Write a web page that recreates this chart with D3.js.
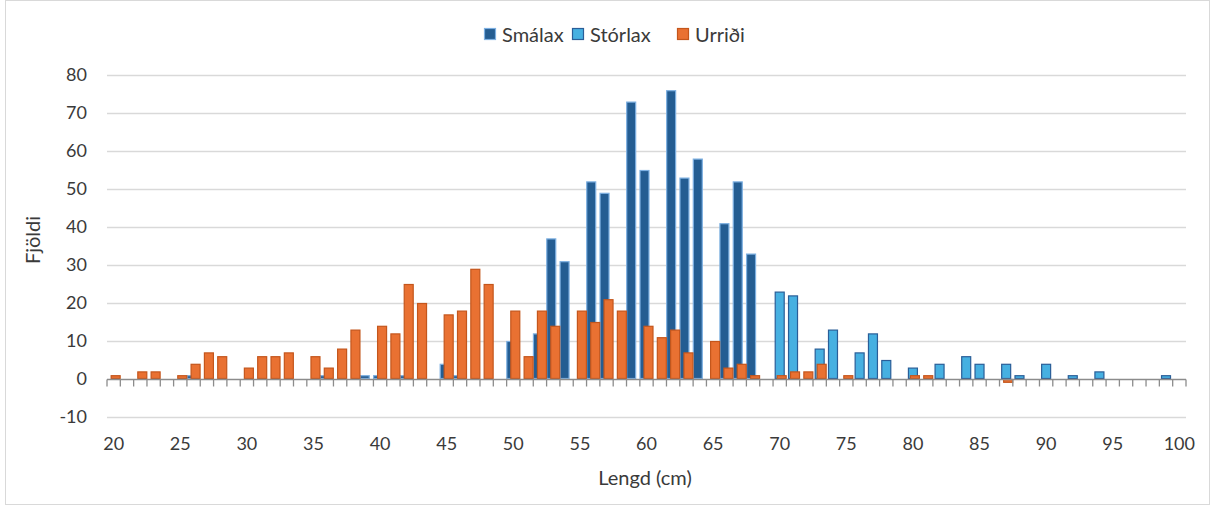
<!DOCTYPE html>
<html>
<head>
<meta charset="utf-8">
<script src="https://cdn.jsdelivr.net/npm/d3@7"></script>
<style>
  html, body { margin: 0; padding: 0; background: #fff; }
  svg { display: block; }
  text { font-family: Lato, "Open Sans", sans-serif; fill: #3a3a3a; }
</style>
</head>
<body>
<svg id="chart" width="1211" height="506"></svg>
<script>
// ---- data ----
const lengths = [20,21,22,23,24,25,26,27,28,29,30,31,32,33,34,35,36,37,38,39,40,
  41,42,43,44,45,46,47,48,49,50,51,52,53,54,55,56,57,58,59,60,
  61,62,63,64,65,66,67,68,69,70,71,72,73,74,75,76,77,78,79,80,
  81,82,83,84,85,86,87,88,89,90,91,92,93,94,95,96,97,98,99,100];

const smalax = [0,0,0,0,0,0,1,0,0,0,0,0,0,0,0,0,1,0,0,1,1,
  0,1,0,0,4,1,0,0,0,10,0,12,37,31,0,52,49,0,73,55,
  0,76,53,58,0,41,52,33,0,0,0,0,0,0,0,0,0,0,0,0,
  0,0,0,0,0,0,0,0,0,0,0,0,0,0,0,0,0,0,0,0];

const storlax = [0,0,0,0,0,0,0,0,0,0,0,0,0,0,0,0,0,0,0,0,0,
  0,0,0,0,0,0,0,0,0,0,0,0,0,0,0,0,0,0,0,0,
  0,0,0,0,0,0,0,0,0,23,22,0,8,13,0,7,12,5,0,3,
  0,4,0,6,4,0,4,1,0,4,0,1,0,2,0,0,0,0,1,0];

const urridi = [1,0,2,2,0,1,4,7,6,0,3,6,6,7,0,6,3,8,13,0,14,
  12,25,20,0,17,18,29,25,0,18,6,18,14,0,18,15,21,18,0,14,
  11,13,7,0,10,3,4,1,0,1,2,2,4,0,1,0,0,0,0,1,
  1,0,0,0,0,0,-1,0,0,0,0,0,0,0,0,0,0,0,0,0];

const yTicks = [-10,0,10,20,30,40,50,60,70,80];
const xLabels = [20,25,30,35,40,45,50,55,60,65,70,75,80,85,90,95,100];

const seriesNames = ["Smálax", "Stórlax", "Urriði"];
const seriesData = [smalax, storlax, urridi];
const fills = ["#245d92", "#46b0e1", "#e97132"];
const strokes = ["#7db0e2", "#2a5e98", "#c4561c"];

// ---- layout ----
const svg = d3.select("#chart");
const plotL = 107, plotR = 1186, plotT = 75, plotB = 417;

svg.append("rect").attr("x", 5.5).attr("y", 0.5).attr("width", 1204).attr("height", 504)
  .attr("fill", "#fff").attr("stroke", "#d9d9d9");

const x = d3.scaleBand().domain(lengths).range([plotL, plotR]).padding(0);
const y = d3.scaleLinear().domain([-10, 80]).range([plotB, plotT]);
const bw = x.bandwidth();
const barW = bw * 0.75;
const shift = bw * 0.15;

// gridlines
svg.append("g").selectAll("line").data(yTicks.filter(d => d !== 0)).join("line")
  .attr("x1", plotL).attr("x2", plotR)
  .attr("y1", d => Math.round(y(d)) + 0.5).attr("y2", d => Math.round(y(d)) + 0.5)
  .attr("stroke", "#d9d9d9").attr("stroke-width", 1.3);

// y labels
svg.append("g").selectAll("text").data(yTicks).join("text")
  .attr("x", 87).attr("y", d => y(d)).attr("dy", "0.35em")
  .attr("text-anchor", "end").attr("font-size", 18).text(d => d);

// bars
seriesData.forEach((vals, si) => {
  svg.append("g").selectAll("rect").data(lengths.map((l, i) => ({l, v: vals[i]})).filter(d => d.v !== 0))
    .join("rect")
    .attr("x", d => x(d.l) + bw / 2 + (si - 1) * shift - barW / 2 + 0.5)
    .attr("width", barW - 1)
    .attr("y", d => Math.min(y(d.v), y(0)) + 0.5)
    .attr("height", d => Math.max(Math.abs(y(d.v) - y(0)) - 1, 0.5))
    .attr("fill", fills[si]).attr("stroke", strokes[si]).attr("stroke-width", 1.2);
});

// x axis
const axisG = svg.append("g").attr("transform", `translate(0,${Math.round(y(0)) + 0.5})`);
const xAxis = d3.axisBottom(x).tickSize(0).tickFormat("");
axisG.call(xAxis);
axisG.select(".domain").attr("stroke", "#8c8c8c").attr("stroke-width", 1.5).attr("d", `M${plotL},0H${plotR}`);
const boundaries = lengths.map(l => x(l)).concat([plotR]);
axisG.selectAll("line.bt").data(boundaries).join("line").attr("class", "bt")
  .attr("x1", d => d).attr("x2", d => d).attr("y1", 0).attr("y2", 7)
  .attr("stroke", "#8c8c8c").attr("stroke-width", 1.3);

// x labels (low position)
svg.append("g").selectAll("text").data(xLabels).join("text")
  .attr("x", d => x(d) + bw / 2).attr("y", 444).attr("dy", "0.35em")
  .attr("text-anchor", "middle").attr("font-size", 18).text(d => d);

// axis titles
svg.append("text").attr("x", 645).attr("y", 478).attr("dy", "0.35em")
  .attr("text-anchor", "middle").attr("font-size", 20).text("Lengd (cm)");
svg.append("text").attr("transform", "translate(33,240) rotate(-90)").attr("dy", "0.35em")
  .attr("text-anchor", "middle").attr("font-size", 20).text("Fjöldi");

// legend
const legendX = [484, 572, 677];
const lg = svg.append("g");
seriesNames.forEach((name, i) => {
  lg.append("rect").attr("x", legendX[i] + 0.5).attr("y", 28.5).attr("width", 11).attr("height", 11)
    .attr("fill", fills[i]).attr("stroke", strokes[i]).attr("stroke-width", 1.2);
  lg.append("text").attr("x", legendX[i] + 18).attr("y", 35).attr("dy", "0.35em")
    .attr("font-size", 20).text(name);
});
</script>
</body>
</html>
